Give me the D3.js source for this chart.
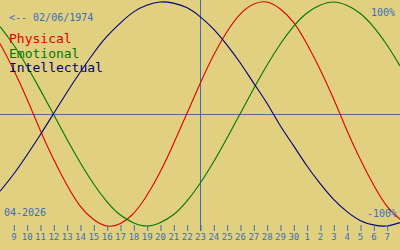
<!DOCTYPE html>
<html>
<head>
<meta charset="utf-8">
<script src="https://cdn.jsdelivr.net/npm/d3@7"></script>
<style>
  html, body { margin: 0; padding: 0; background: #e0d080; overflow: hidden; }
  svg { display: block; }
  text { font-family: "DejaVu Sans Mono", monospace; }
</style>
</head>
<body>
<script>
// days shown: 8 Apr 2026 .. 8 May 2026, today = 23 Apr (offset 0)
let offsets = d3.range(-15, 16);
let tickOffsets = d3.range(-14, 15);
let tickLabels = [9,10,11,12,13,14,15,16,17,18,19,20,21,22,23,24,25,26,27,28,29,30,1,2,3,4,5,6,7];

// biorhythm values, one per day
let physical = [0.63, 0.40, 0.14, -0.14, -0.40, -0.63, -0.82, -0.94, -1.00, -0.98, -0.89, -0.73, -0.52, -0.27, 0.00,
                0.27, 0.52, 0.73, 0.89, 0.98, 1.00, 0.94, 0.82, 0.63, 0.40, 0.14, -0.14, -0.40, -0.63, -0.82, -0.94];
let emotional = [0.78, 0.62, 0.43, 0.22, 0.00, -0.22, -0.43, -0.62, -0.78, -0.90, -0.97, -1.00, -0.97, -0.90, -0.78,
                 -0.62, -0.43, -0.22, 0.00, 0.22, 0.43, 0.62, 0.78, 0.90, 0.97, 1.00, 0.97, 0.90, 0.78, 0.62, 0.43];
let intellectual = [-0.69, -0.54, -0.37, -0.19, 0.00, 0.19, 0.37, 0.54, 0.69, 0.81, 0.91, 0.97, 1.00, 0.99, 0.95,
                    0.87, 0.76, 0.62, 0.46, 0.28, 0.10, -0.10, -0.28, -0.46, -0.62, -0.76, -0.87, -0.95, -0.99, -1.00, -0.97];

let series = [
  {name: 'Physical', values: physical, color: '#e00000'},
  {name: 'Emotional', values: emotional, color: '#007800'},
  {name: 'Intellectual', values: intellectual, color: '#000080'}
];

let w = 400, h = 250;
let blue = '#3c6eb8';

let svg = d3.select('body').append('svg')
  .attr('width', w)
  .attr('height', h);

svg.append('rect').attr('width', w).attr('height', h).attr('fill', '#e0d080');

let x = d3.scaleLinear().domain([-15, 15]).range([0, w]);
let y = d3.scaleLinear().domain([-1, 1]).range([226, 2]);

// zero line
svg.append('line')
  .attr('x1', 0).attr('x2', w)
  .attr('y1', Math.round(y(0)) + 0.5).attr('y2', Math.round(y(0)) + 0.5)
  .attr('stroke', '#506c90').attr('stroke-width', 1);

// today line
svg.append('line')
  .attr('x1', x(0) + 0.5).attr('x2', x(0) + 0.5)
  .attr('y1', 0).attr('y2', 231)
  .attr('stroke', blue).attr('stroke-width', 1);

let line = d3.line()
  .x((d, i) => x(offsets[i]))
  .y(d => y(d))
  .curve(d3.curveNatural);

svg.selectAll('path.bio')
  .data(series)
  .enter()
  .append('path')
  .attr('class', 'bio')
  .attr('d', d => line(d.values))
  .attr('fill', 'none')
  .attr('stroke', d => d.color)
  .attr('stroke-width', 1.1);

// day axis
let axis = svg.append('g')
  .attr('transform', 'translate(0,225)')
  .call(d3.axisBottom(x)
    .tickValues(tickOffsets)
    .tickFormat((d, i) => tickLabels[i])
    .tickSize(6)
    .tickPadding(3));
axis.select('.domain').remove();
axis.selectAll('line').attr('stroke', blue).attr('transform', 'translate(0.5,0)');
axis.selectAll('text')
  .attr('fill', blue)
  .style('font-size', '9px')
  .style('font-family', '"DejaVu Sans Mono", monospace');

// labels
svg.append('text')
  .text('<-- 02/06/1974')
  .attr('x', 9).attr('y', 21)
  .attr('fill', blue)
  .style('font-size', '10px');

svg.append('text')
  .text('100%')
  .attr('x', 395).attr('y', 16)
  .attr('text-anchor', 'end')
  .attr('fill', blue)
  .style('font-size', '10px');

svg.append('text')
  .text('-100%')
  .attr('x', 397).attr('y', 217)
  .attr('text-anchor', 'end')
  .attr('fill', blue)
  .style('font-size', '10px');

svg.append('text')
  .text('04-2026')
  .attr('x', 4).attr('y', 216)
  .attr('fill', blue)
  .style('font-size', '10px');

svg.selectAll('text.legend')
  .data(series)
  .enter()
  .append('text')
  .attr('class', 'legend')
  .text(d => d.name)
  .attr('x', 9)
  .attr('y', (d, i) => 43 + i * 14.5)
  .attr('fill', d => d.color)
  .style('font-size', '13px');
</script>
</body>
</html>
